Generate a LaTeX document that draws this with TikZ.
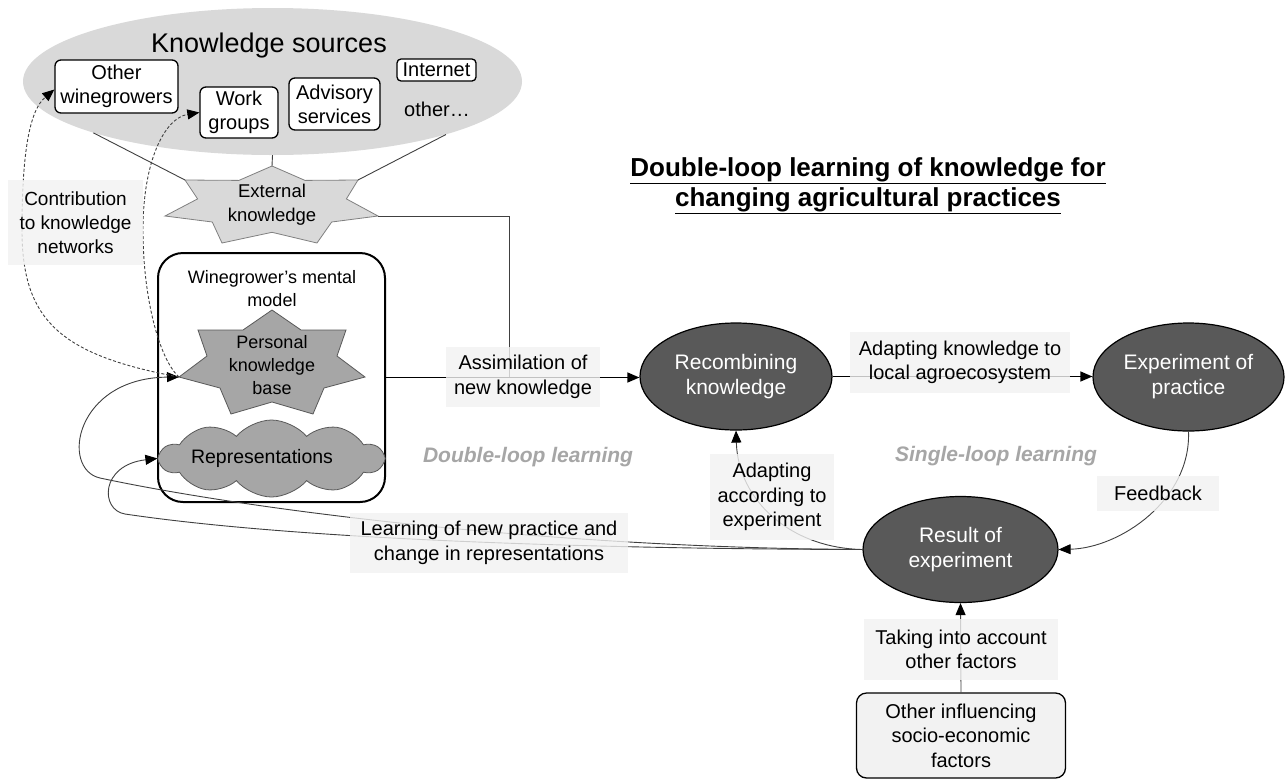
\documentclass[tikz,border=0pt]{standalone}
\usepackage{fontspec}
\setmainfont{Liberation Sans}
\usetikzlibrary{shapes.geometric,shapes.symbols,arrows.meta,calc}
\definecolor{lab}{HTML}{F2F2F2}
\definecolor{ksg}{HTML}{D9D9D9}
\definecolor{dk}{HTML}{595959}
\definecolor{mg}{HTML}{A6A6A6}
\definecolor{ln}{HTML}{404040}
\newcommand\myfs[2]{\fontsize{#1}{#2}\selectfont}
\tikzset{
  lbl/.style={fill=lab, fill opacity=0.8, text opacity=1, align=center, inner sep=1pt, font=\myfs{20}{24.5}},
  src/.style={draw=black, fill=white, rounded corners=6pt, line width=1.3pt, align=center, font=\myfs{20}{24}, inner sep=0pt},
  ell/.style={ellipse, draw=black, line width=1.2pt, fill=dk, text=white, align=center, font=\myfs{21}{25}, inner sep=0pt},
  arr/.style={-{Triangle[length=12pt,width=10pt,color=black]}},
  cline/.style={draw=ln, line width=0.9pt},
  mline/.style={draw=black, line width=1.3pt},
  dline/.style={draw=ln, line width=0.9pt, dash pattern=on 3pt off 2pt},
}
\begin{document}
\begin{tikzpicture}[x=1pt,y=-1pt]
\useasboundingbox (0,0) rectangle (1285,780);
\fill[white] (0,0) rectangle (1285,780);

% Knowledge sources
\node[ellipse, fill=ksg, minimum width=499pt, minimum height=147pt, inner sep=0pt] (ks) at (272.5,81.5) {};
\node[font=\myfs{27}{31}] (kst) at (269,46) {Knowledge sources};
\node[src, minimum width=123pt, minimum height=53pt] (ow) at (116.5,86.5) {Other\\winegrowers};
\node[src, minimum width=78pt, minimum height=51pt] (wg) at (239,112.5) {Work\\groups};
\node[src, minimum width=91pt, minimum height=52pt] (as) at (334.5,104) {Advisory\\services};
\node[src, minimum width=79pt, minimum height=22pt, rounded corners=4pt] (inet) at (436.5,70) {Internet};
\node[font=\myfs{20}{24}] (oth) at (437,109) {other…};

% External knowledge star
\coordinate (ekT) at (272,166);
\coordinate (ekUL) at (185,180);
\coordinate (ekUR) at (358,180);
\coordinate (ekR) at (378,216);
\draw[fill=ksg, draw=gray, line width=0.8pt] (ekT) -- (305,180.4) -- (ekUR) -- (346.4,198.9) -- (ekR) -- (331.7,222) -- (317,243) -- (272,232.3) -- (222,243) -- (212.3,222) -- (165,216) -- (197.6,198.9) -- (ekUL) -- (238.9,180.4) -- cycle;
\node[align=center, font=\myfs{18.5}{24}] (ek) at (272,205) {External\\knowledge};
\draw[cline] (ks.196.6) -- (ekUL);
\draw[cline] (ks.south) -- (ekT);
\draw[cline] (ks.343.4) -- (ekUR);

% Mental model
\node[draw=black, line width=2pt, rounded corners=25pt, minimum width=227pt, minimum height=249pt, inner sep=0pt] (mm) at (271.5,377.5) {};
\node[align=center, font=\myfs{18}{23}] (mmt) at (272,288.5) {Winegrower’s mental\\model};
\coordinate (pkbL) at (179,377);
\draw[fill=mg, draw=dk, line width=0.8pt] (272,310) -- (301,330) -- (346,330) -- (337,356) -- (365,377) -- (324,388) -- (313,414) -- (272,402) -- (231,414) -- (220,388) -- (pkbL) -- (207,356) -- (198,330) -- (243,330) -- cycle;
\node[align=center, font=\myfs{18}{23}] (pkb) at (272,365) {Personal\\knowledge\\base};
\node[cloud, cloud puffs=10, cloud puff arc=100, aspect=2.9, fill=mg, draw=dk, line width=0.8pt, minimum width=223pt, minimum height=77pt, inner sep=0pt] (rep) at (271.5,458.5) {};
\node[font=\myfs{19.5}{23}] (rept) at (262,458) {Representations};

% Process ellipses
\node[ell, minimum width=192pt, minimum height=107pt] (rec) at (736,376.5) {Recombining\\knowledge};
\node[ell, minimum width=191pt, minimum height=108pt] (exp) at (1188.5,377) {Experiment of\\practice};
\node[ell, minimum width=195pt, minimum height=106pt] (res) at (960.5,549.5) {Result of\\experiment};
\node[draw=black, fill=lab, line width=1.3pt, rounded corners=10pt, minimum width=209pt, minimum height=85pt, align=center, font=\myfs{20}{24.5}, inner sep=0pt] (soc) at (961,735.5) {Other influencing\\socio-economic\\factors};

% Title and loop names
\node[font=\myfs{26}{30}\bfseries, align=center] (title) at (868,186) {\underline{Double-loop learning of knowledge for}\\\underline{changing agricultural practices}};
\node[font=\myfs{21}{25}\bfseries\itshape, text=mg] (dll) at (528,457) {Double-loop learning};
\node[font=\myfs{21}{25}\bfseries\itshape, text=mg] (sll) at (996,456) {Single-loop learning};

% Connectors
\coordinate (jn) at (509,377.5);
\draw[cline] (ekR) -| (jn);
\draw[mline, arr] (mm.east) -- (mm.east -| rec.west);
\draw[mline, arr] (rec.east) -- (rec.east -| exp.west);
\draw[cline, arr] (exp.south) .. controls (1191,500) and (1120,548) .. (res.east);
\draw[cline, arr] (res.west) .. controls (790,548) and (738,500) .. (rec.south);
\draw[cline, arr] (soc.north) -- (res.south);
\draw[cline, arr] (res.west) .. controls (550,548) and (250,510) .. (100,478) .. controls (60,469) and (75,378) .. (pkbL);
\draw[cline, arr] (res.west) .. controls (600,549) and (300,540) .. (125,514) .. controls (100,510) and (100,465) .. (rep.west);
\draw[dline, arr] (pkbL) .. controls (60,355) and (22,320) .. (22,230) .. controls (22,150) and (30,110) .. ($(ow.west)+(0,3)$);
\draw[dline, arr] (pkbL) .. controls (160,360) and (143,300) .. (143,230) .. controls (143,160) and (165,118) .. (wg.west);

% Labels
\node[lbl, minimum width=135pt, minimum height=85pt, font=\myfs{19}{24}] (contrib) at (75.5,222.5) {Contribution\\to knowledge\\networks};
\node[lbl, minimum width=154pt, minimum height=60pt] (assim) at (523,377) {Assimilation of\\new knowledge};
\node[lbl, minimum width=220pt, minimum height=61pt] (adaptk) at (960,362.5) {Adapting knowledge to\\local agroecosystem};
\node[lbl, minimum width=122pt, minimum height=35pt] (fb) at (1158,493.5) {Feedback};
\node[lbl, minimum width=124pt, minimum height=86pt] (adapte) at (772,497) {Adapting\\according to\\experiment};
\node[lbl, minimum width=278pt, minimum height=60pt] (learn) at (489,543) {Learning of new practice and\\change in representations};
\node[lbl, minimum width=194pt, minimum height=61pt] (take) at (961,649.5) {Taking into account\\other factors};
\end{tikzpicture}
\end{document}
